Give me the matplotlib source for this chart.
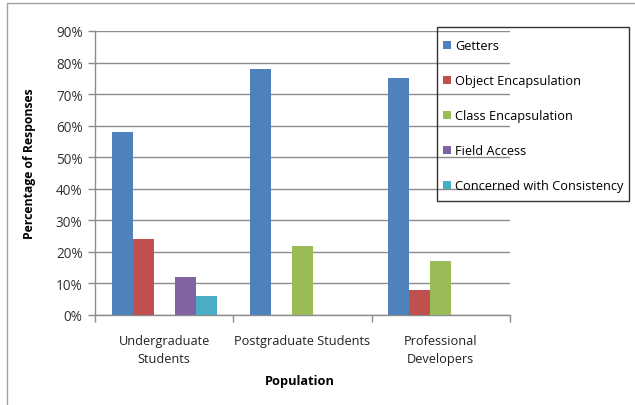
import matplotlib
matplotlib.use("Agg")
import matplotlib.pyplot as plt
from matplotlib.patches import Rectangle
from matplotlib.ticker import FixedLocator, FuncFormatter

plt.rcParams['font.family'] = ['Open Sans', 'DejaVu Sans']

categories = ["Undergraduate\nStudents", "Postgraduate Students", "Professional\nDevelopers"]
series = ["Getters", "Object Encapsulation", "Class Encapsulation",
          "Field Access", "Concerned with Consistency"]
getters = [58, 78, 75]
object_enc = [24, 0, 8]
class_enc = [0, 22, 17]
field_access = [12, 0, 0]
consistency = [6, 0, 0]
values = [getters, object_enc, class_enc, field_access, consistency]
colors = ["#4F81BD", "#C0504D", "#9BBB59", "#8064A2", "#4BACC6"]

W, H = 635, 406
fig = plt.figure(figsize=(W / 100, H / 100), dpi=100)
fig.patch.set_facecolor("white")


def fig_box(x0, y0, x1, y1, **kw):
    """Rectangle given in pixel coordinates measured from the top-left."""
    return Rectangle((x0 / W, 1 - y1 / H), (x1 - x0) / W, (y1 - y0) / H,
                     transform=fig.transFigure, fill=False, **kw)


# outer chart frame
fig.patches.append(fig_box(7, 4, W + 5, H + 5, edgecolor="#A0A0A0", linewidth=1.0))

ax = fig.add_axes([95 / W, (H - 316) / H, (510 - 95) / W, (316 - 32) / H])

w = 0.152
centers = [0.5, 1.5, 2.5]
handles = []
for i, (name, vals, c) in enumerate(zip(series, values, colors)):
    xs = [cx + (i - 2) * w for cx in centers]
    h = ax.bar(xs, vals, width=w, color=c, label=name, zorder=3, linewidth=0)
    handles.append(h)

ax.set_xlim(0, 3)
ax.set_ylim(0, 90)
ax.yaxis.set_major_locator(FixedLocator(range(0, 91, 10)))
ax.yaxis.set_major_formatter(FuncFormatter(lambda v, p: f"{int(v)}%"))
ax.grid(axis="y", color="#8C8C8C", linewidth=1.0, zorder=0)

ax.set_xticks([0, 1, 2, 3])
ax.set_xticklabels([])
ax.set_xticks(centers, minor=True)
ax.set_xticklabels(categories, minor=True, fontsize=9.2, color="#222222",
                   linespacing=1.45)
ax.tick_params(axis="x", which="minor", length=0, pad=14)
ax.tick_params(axis="x", which="major", length=5, color="#8C8C8C", width=1)
ax.tick_params(axis="y", length=5, color="#8C8C8C", width=1, labelsize=9.8,
               labelcolor="#333333", pad=4)

for s in ["top", "right"]:
    ax.spines[s].set_visible(False)
for s in ["left", "bottom"]:
    ax.spines[s].set_color("#8C8C8C")
    ax.spines[s].set_linewidth(1.0)

fig.text(30 / W, 1 - 164 / H, "Percentage of Responses", rotation=90,
         ha="center", va="center", fontsize=8.8, fontweight="bold")
fig.text(300 / W, 1 - 382 / H, "Population", ha="center", va="center",
         fontsize=9.2, fontweight="bold")

# legend entries, with their own frame drawn around them
leg = fig.legend(handles=handles, labels=series, loc="upper left",
                 bbox_to_anchor=(443 / W, 1 - 40.5 / H),
                 bbox_transform=fig.transFigure,
                 fontsize=9.2, frameon=False,
                 handlelength=0.62, handleheight=0.62, handletextpad=0.35,
                 labelspacing=1.72, borderpad=0, borderaxespad=0)
fig.patches.append(fig_box(437, 28, 629, 202, edgecolor="#333333", linewidth=1.0))

fig.savefig("out.png", dpi=100)
